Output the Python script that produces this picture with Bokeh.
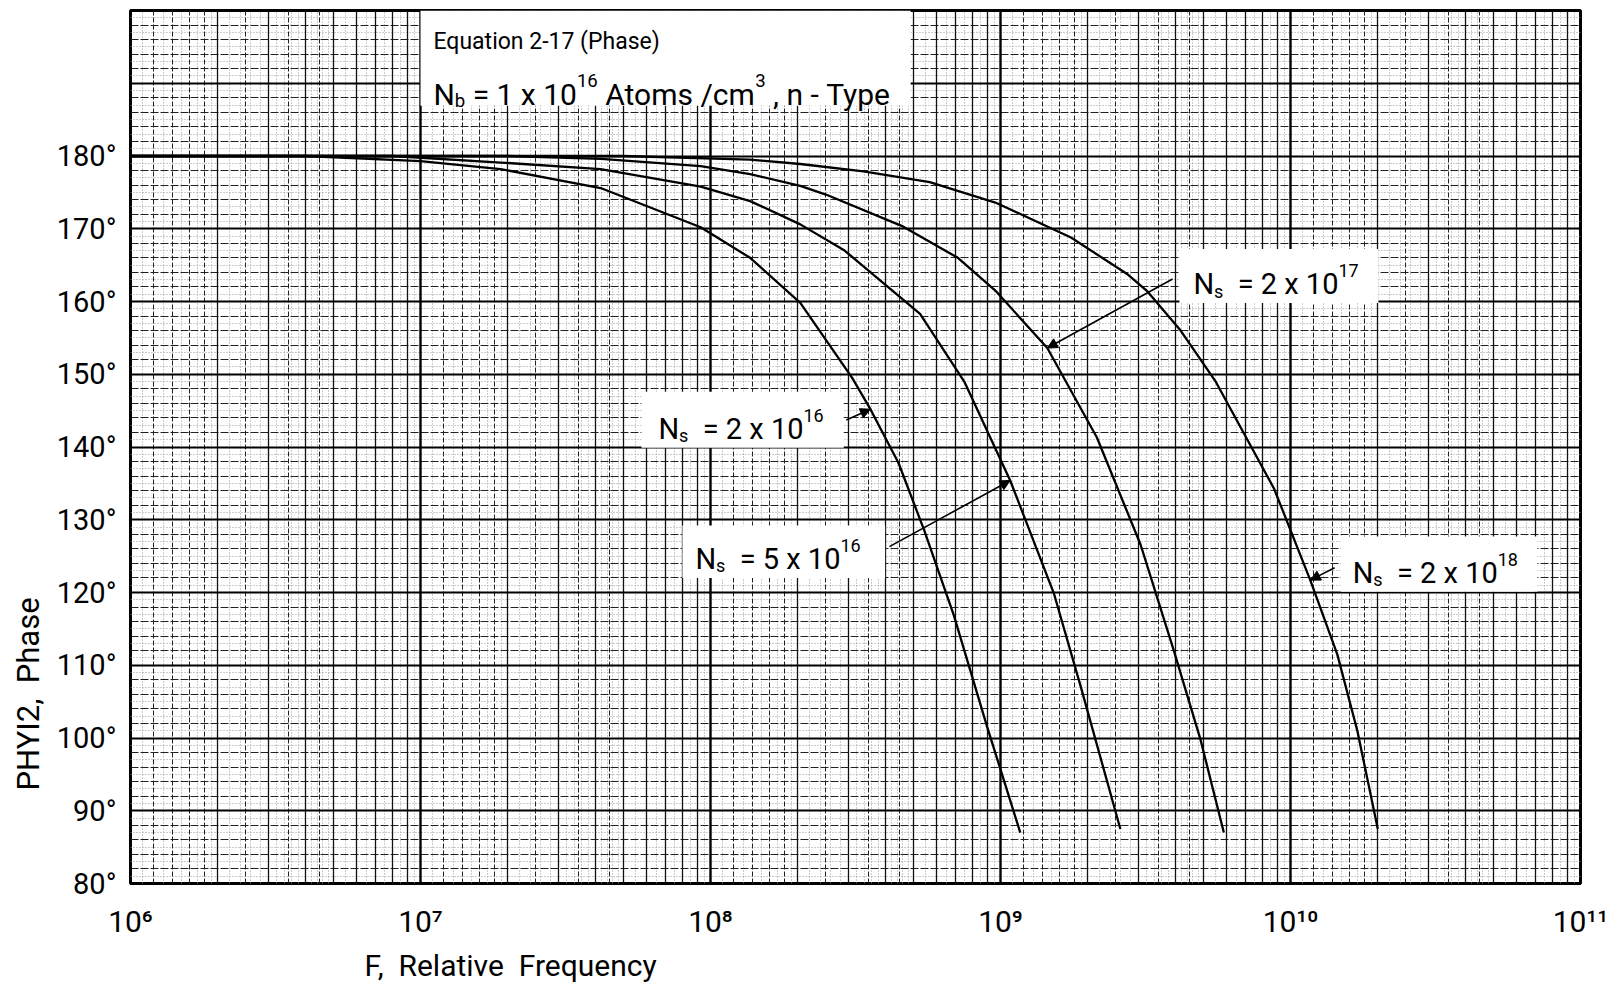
import math
from bokeh.plotting import figure
from bokeh.models import FixedTicker, Grid, Label, Arrow, NormalHead, Range1d, Title
from bokeh.embed import file_html
from bokeh.resources import INLINE

# ---------------- data ----------------
freq_ns_2e16 = [1e6, 4e6, 1.0e7, 1.89e7, 4.18e7, 9.25e7, 1.37e8, 2.04e8, 3.08e8, 3.56e8, 4.45e8, 5.45e8, 6.9e8, 9.0e8, 1.17e9]
phase_ns_2e16 = [180.0, 180.0, 179.3, 178.2, 175.6, 170.2, 166.0, 159.8, 149.5, 145.2, 137.8, 128.6, 116.9, 101.5, 87.0]

freq_ns_5e16 = [1e6, 8e6, 1.89e7, 4.18e7, 9.25e7, 1.37e8, 2.04e8, 2.9e8, 5.28e8, 7.5e8, 1.08e9, 1.53e9, 1.89e9, 2.59e9]
phase_ns_5e16 = [180.0, 180.0, 179.1, 178.2, 175.8, 173.8, 170.6, 167.0, 158.3, 149.0, 135.4, 119.8, 107.1, 87.5]

freq_ns_2e17 = [1e6, 2e7, 4.2e7, 9.25e7, 1.37e8, 2.04e8, 2.5e8, 4.56e8, 7.13e8, 9.6e8, 1.45e9, 2.15e9, 3.04e9, 3.96e9, 4.9e9, 5.89e9]
phase_ns_2e17 = [180.0, 180.0, 179.6, 178.6, 177.5, 175.9, 174.7, 170.4, 166.0, 161.5, 153.6, 141.3, 126.6, 112.0, 99.7, 87.0]

freq_ns_2e18 = [1e6, 5e7, 1.37e8, 2.04e8, 3.37e8, 5.7e8, 9.6e8, 1.75e9, 2.75e9, 3.19e9, 4.18e9, 5.5e9, 8.77e9, 1.17e10, 1.45e10, 1.7e10, 2.0e10]
phase_ns_2e18 = [180.0, 180.0, 179.5, 178.9, 177.9, 176.4, 173.6, 168.8, 163.7, 161.5, 156.0, 149.1, 134.3, 121.7, 111.5, 101.0, 87.5]

x_tick_values = [1e6, 1e7, 1e8, 1e9, 1e10, 1e11]
x_tick_labels = ["10⁶", "10⁷", "10⁸", "10⁹", "10¹⁰", "10¹¹"]
y_tick_values = [80, 90, 100, 110, 120, 130, 140, 150, 160, 170, 180]
y_tick_labels = ["80°", "90°", "100°", "110°", "120°", "130°", "140°", "150°", "160°", "170°", "180°"]

# label boxes (data space): left, right, bottom, top
box_left = [1.0e7, 5.78e7, 8.0e7, 4.14e9, 1.49e10]
box_right = [4.9e8, 2.88e8, 4.0e8, 2.01e10, 7.1e10]
box_bottom = [186.9, 139.9, 122.0, 159.8, 120.1]
box_top = [200.0, 147.6, 129.2, 167.2, 127.7]

# ---------------- layout ----------------
W, H = 1610, 989
FL, FT, FR, FB = 130, 10, 1580, 883          # frame edges in page pixels
BL, BR, BT, BB = FL, W - FR, FT, H - FB
FRAME_H = FB - FT
Y0, Y1 = 80, 200
PX_PER_DEG = FRAME_H / (Y1 - Y0)
FONT = "Roboto"
NB = "\u00a0"

p = figure(width=W, height=H, x_axis_type="log",
           x_range=Range1d(1e6, 1e11), y_range=Range1d(Y0, Y1),
           output_backend="svg", toolbar_location=None, title=None,
           min_border_left=BL, min_border_right=BR, min_border_top=BT, min_border_bottom=BB)
p.background_fill_color = "white"
p.border_fill_color = "white"
p.outline_line_color = "black"
p.outline_line_width = 3
p.xgrid.grid_line_color = None
p.ygrid.grid_line_color = None

# ---------------- graph-paper grid ----------------
decades = [10 ** k for k in range(6, 12)]
ints = [m * 10 ** k for k in range(6, 11) for m in range(2, 10)]
dashed_m = [1.2, 1.4, 1.6, 1.8, 2.5, 3.5, 4.5]
fine_m = [1.1, 1.3, 1.5, 1.7, 1.9, 2.2, 2.4, 2.6, 2.8, 3.2, 3.4, 3.6, 3.8, 4.2, 4.4, 4.6, 4.8,
          5.5, 6.5, 7.5, 8.5, 9.5]
x_dashed = [m * 10 ** k for k in range(6, 11) for m in dashed_m]
x_fine = [m * 10 ** k for k in range(6, 11) for m in fine_m]

y_fine = [v for v in range(80, 201) if v % 2 == 1]
y_mid = [v for v in range(80, 201) if v % 2 == 0 and v % 10 != 0]
y_major = list(range(80, 201, 10))

def add_grid(dim, ticks, color, width, dash="solid"):
    p.add_layout(Grid(dimension=dim, ticker=FixedTicker(ticks=ticks),
                      grid_line_color=color, grid_line_width=width, grid_line_dash=dash))

add_grid(0, x_fine, "#9a9a9a", 1, "1 2")
add_grid(1, y_fine, "#9a9a9a", 1, "1 2")
add_grid(0, x_dashed, "#222222", 1, "5 2")
add_grid(1, y_mid, "#222222", 1, "8 2")
add_grid(0, ints, "#111111", 1.3)
add_grid(1, y_major, "black", 2.2)
add_grid(0, decades, "black", 2.4)

# ---------------- axes ----------------
p.xaxis.ticker = FixedTicker(ticks=x_tick_values)
p.xaxis.major_label_overrides = {v: t for v, t in zip(x_tick_values, x_tick_labels)}
p.yaxis.ticker = FixedTicker(ticks=y_tick_values)
p.yaxis.major_label_overrides = {v: t for v, t in zip(y_tick_values, y_tick_labels)}
for ax in (p.xaxis, p.yaxis):
    ax.axis_line_color = None
    ax.major_tick_line_color = None
    ax.minor_tick_line_color = None
    ax.major_label_text_font = FONT
    ax.major_label_text_color = "black"
p.xaxis.major_label_text_font_size = "30px"
p.xaxis.major_label_standoff = 14
p.yaxis.major_label_text_font_size = "29px"
p.yaxis.major_label_standoff = 8

# axis titles as side titles, placed where the reference puts them
ylab = Title(text="PHYI2," + NB + " Phase", align="left", offset=FB - 790,
             text_font=FONT, text_font_size="31px", text_font_style="normal",
             text_color="black", standoff=14)
p.add_layout(ylab, "left")
xlab = Title(text="F," + NB + " Relative" + NB + " Frequency", align="left", offset=364 - FL,
             text_font=FONT, text_font_size="30px", text_font_style="normal",
             text_color="black", standoff=8)
p.add_layout(xlab, "below")

# ---------------- label boxes and curves ----------------
p.quad(left=box_left, right=box_right, bottom=box_bottom, top=box_top,
       fill_color="white", line_color=None)

for fx, ph in [(freq_ns_2e16, phase_ns_2e16), (freq_ns_5e16, phase_ns_5e16),
               (freq_ns_2e17, phase_ns_2e17), (freq_ns_2e18, phase_ns_2e18)]:
    p.line(fx, ph, line_color="black", line_width=2.3)

# ---------------- rich text helper ----------------
WID = {" ": 0.248, NB: 0.248, "N": 0.71, "=": 0.55, "x": 0.496, "s": 0.516, "b": 0.56, "A": 0.652,
       "t": 0.327, "o": 0.57, "m": 0.876, "/": 0.412, "c": 0.523, ",": 0.196, "n": 0.551,
       "-": 0.276, "T": 0.61, "y": 0.473, "p": 0.56, "e": 0.529, "E": 0.568, "q": 0.56,
       "u": 0.551, "a": 0.544, "i": 0.243, "(": 0.342, ")": 0.348, "P": 0.631, "h": 0.551}

def text_w(t, size):
    return sum(WID.get(c, 0.5615 if c.isdigit() else 0.55) for c in t) * size

def rich(x, y, parts, size, pad):
    cur = pad
    for txt, kind in parts:
        fs = size if kind == "n" else size * 0.62
        dy = 0.0
        if kind == "sub":
            dy = -0.24 * size / PX_PER_DEG
        elif kind == "sup":
            dy = 0.45 * size / PX_PER_DEG
        core = txt.strip(" ")
        lead = len(txt) - len(txt.lstrip(" "))
        trail = len(txt) - len(txt.rstrip(" "))
        cur += lead * WID[" "] * fs
        if core:
            p.add_layout(Label(x=x, y=y + dy, x_offset=cur, text=core, text_font=FONT,
                               text_font_size=f"{fs:.1f}px", text_color="black",
                               text_baseline="alphabetic", text_align="left"))
        cur += text_w(core, fs) + trail * WID[" "] * fs

# title box
rich(box_left[0], 195.8, [("Equation 2-17 (Phase)", "n")], 23, 13)
rich(box_left[0], 188.5, [("N", "n"), ("b", "sub"), (" =" + NB + "1" + NB + "x" + NB + "10", "n"),
                          ("16", "sup"), (" Atoms" + NB + "/cm", "n"), ("3", "sup"),
                          (" ," + NB + "n" + NB + "-" + NB + "Type", "n")], 30, 13)
# curve labels
ns_gap = NB + "=" + NB + "{}" + NB + "x" + NB + "10"
rich(box_left[1], 142.5, [("N", "n"), ("s", "sub"), (" " + ns_gap.format("2"), "n"), ("16", "sup")], 29, 17)
rich(box_left[2], 124.6, [("N", "n"), ("s", "sub"), (" " + ns_gap.format("5"), "n"), ("16", "sup")], 29, 13)
rich(box_left[3], 162.4, [("N", "n"), ("s", "sub"), (" " + ns_gap.format("2"), "n"), ("17", "sup")], 29, 14)
rich(box_left[4], 122.7, [("N", "n"), ("s", "sub"), (" " + ns_gap.format("2"), "n"), ("18", "sup")], 29, 12)

# leader arrows: start near box, tip on a curve point
def leader(xs, ys, xe, ye):
    p.add_layout(Arrow(x_start=xs, y_start=ys, x_end=xe, y_end=ye, line_color="black",
                       line_width=1.6,
                       end=NormalHead(size=10, fill_color="black", line_color="black")))

leader(2.94e8, 143.7, freq_ns_2e16[9], phase_ns_2e16[9])
leader(4.14e8, 126.3, freq_ns_5e16[10], phase_ns_5e16[10])
leader(3.92e9, 163.1, freq_ns_2e17[10], phase_ns_2e17[10])
leader(1.42e10, 123.4, freq_ns_2e18[13], phase_ns_2e18[13])

open("out.html", "w").write(file_html(p, INLINE))
